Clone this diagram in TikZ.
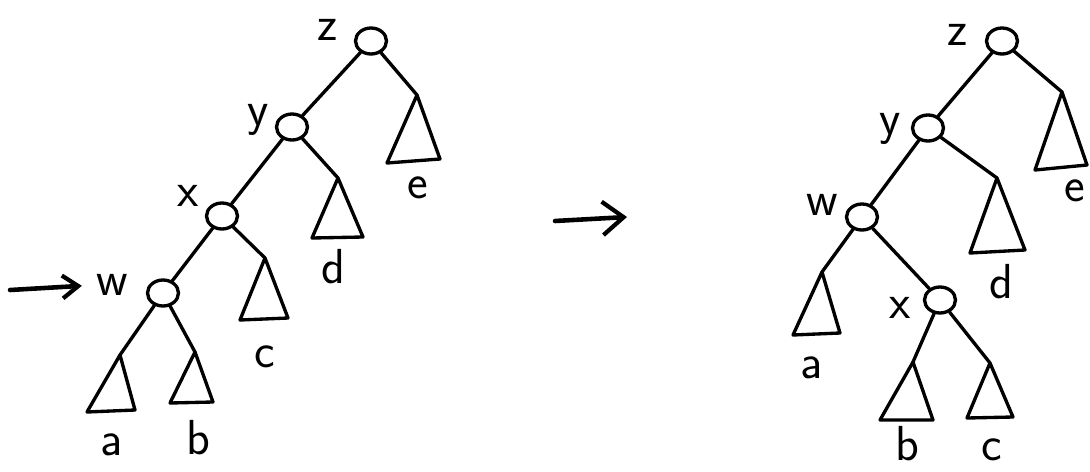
\documentclass[tikz,border=0pt]{standalone}
\usetikzlibrary{arrows.meta,shapes.geometric}

\begin{document}
\begin{tikzpicture}[
    x=0.02cm, y=-0.02cm,
    line cap=round, line join=round,
    knot/.style={ellipse, draw, line width=1.9pt, minimum width=0.62cm, minimum height=0.52cm, inner sep=0pt},
    lab/.style={font=\fontsize{28}{30}\selectfont\sffamily, inner sep=0pt},
    branch/.style={line width=1.9pt},
    tri/.style={line width=1.9pt},
    arrow/.style={-{Straight Barb[length=12pt,width=19pt,line width=2.4pt]}, line width=2.6pt},
]
    \useasboundingbox (0,0) rectangle (1090,471);

    % Left tree
    \node[knot] (lz) at (371,41) {};
    \node[knot] (ly) at (292,127) {};
    \node[knot] (lx) at (222,216) {};
    \node[knot] (lw) at (163,293) {};
    \node[lab] (lzlab) at (328,30) {z};
    \node[lab] (lylab) at (258,120) {y};
    \node[lab] (lxlab) at (188,196) {x};
    \node[lab] (lwlab) at (112,285) {w};

    \coordinate (la) at (120,355);
    \coordinate (lb) at (195,352);
    \coordinate (lc) at (265,258);
    \coordinate (ld) at (338,178);
    \coordinate (le) at (417,95);
    \draw[tri] (la) -- +(-33,57) -- +(15,55) -- cycle;
    \draw[tri] (lb) -- +(-25,51) -- +(18,50) -- cycle;
    \draw[tri] (lc) -- +(-25,62) -- +(23,60) -- cycle;
    \draw[tri] (ld) -- +(-26,60) -- +(25,59) -- cycle;
    \draw[tri] (le) -- +(-30,68) -- +(23,64) -- cycle;
    \node[lab] (lalab) at (112,445) {a};
    \node[lab] (lblab) at (198,438) {b};
    \node[lab] (lclab) at (265,357) {c};
    \node[lab] (ldlab) at (333,267) {d};
    \node[lab] (lelab) at (418,188) {e};

    \draw[branch] (lz) -- (ly);
    \draw[branch] (lz) -- (le);
    \draw[branch] (ly) -- (lx);
    \draw[branch] (ly) -- (ld);
    \draw[branch] (lx) -- (lw);
    \draw[branch] (lx) -- (lc);
    \draw[branch] (lw) -- (la);
    \draw[branch] (lw) -- (lb);

    % Arrows
    \coordinate (pin) at (10,290);
    \draw[arrow, -{Straight Barb[length=9pt,width=13pt,line width=2.4pt]}] (pin) -- (lwlab.west) [shorten >=8pt];
    \coordinate (mida) at (555,221);
    \coordinate (midb) at (627,217);
    \draw[arrow] (mida) -- (midb);

    % Right tree
    \node[knot] (rz) at (1002,41) {};
    \node[knot] (ry) at (928,128) {};
    \node[knot] (rw) at (862,217) {};
    \node[knot] (rx) at (940,300) {};
    \node[lab] (rzlab) at (958,35) {z};
    \node[lab] (rylab) at (890,129) {y};
    \node[lab] (rwlab) at (822,205) {w};
    \node[lab] (rxlab) at (900,308) {x};

    \coordinate (ra) at (822,272);
    \coordinate (rb) at (913,362);
    \coordinate (rc) at (990,363);
    \coordinate (rd) at (997,178);
    \coordinate (re) at (1062,92);
    \draw[tri] (ra) -- +(-29,63) -- +(18,61) -- cycle;
    \draw[tri] (rb) -- +(-33,58) -- +(20,58) -- cycle;
    \draw[tri] (rc) -- +(-23,55) -- +(23,54) -- cycle;
    \draw[tri] (rd) -- +(-27,75) -- +(28,72) -- cycle;
    \draw[tri] (re) -- +(-27,78) -- +(25,73) -- cycle;
    \node[lab] (ralab) at (812,368) {a};
    \node[lab] (rblab) at (907,444) {b};
    \node[lab] (rclab) at (992,450) {c};
    \node[lab] (rdlab) at (1001,282) {d};
    \node[lab] (relab) at (1075,191) {e};

    \draw[branch] (rz) -- (ry);
    \draw[branch] (rz) -- (re);
    \draw[branch] (ry) -- (rw);
    \draw[branch] (ry) -- (rd);
    \draw[branch] (rw) -- (ra);
    \draw[branch] (rw) -- (rx);
    \draw[branch] (rx) -- (rb);
    \draw[branch] (rx) -- (rc);
\end{tikzpicture}
\end{document}
